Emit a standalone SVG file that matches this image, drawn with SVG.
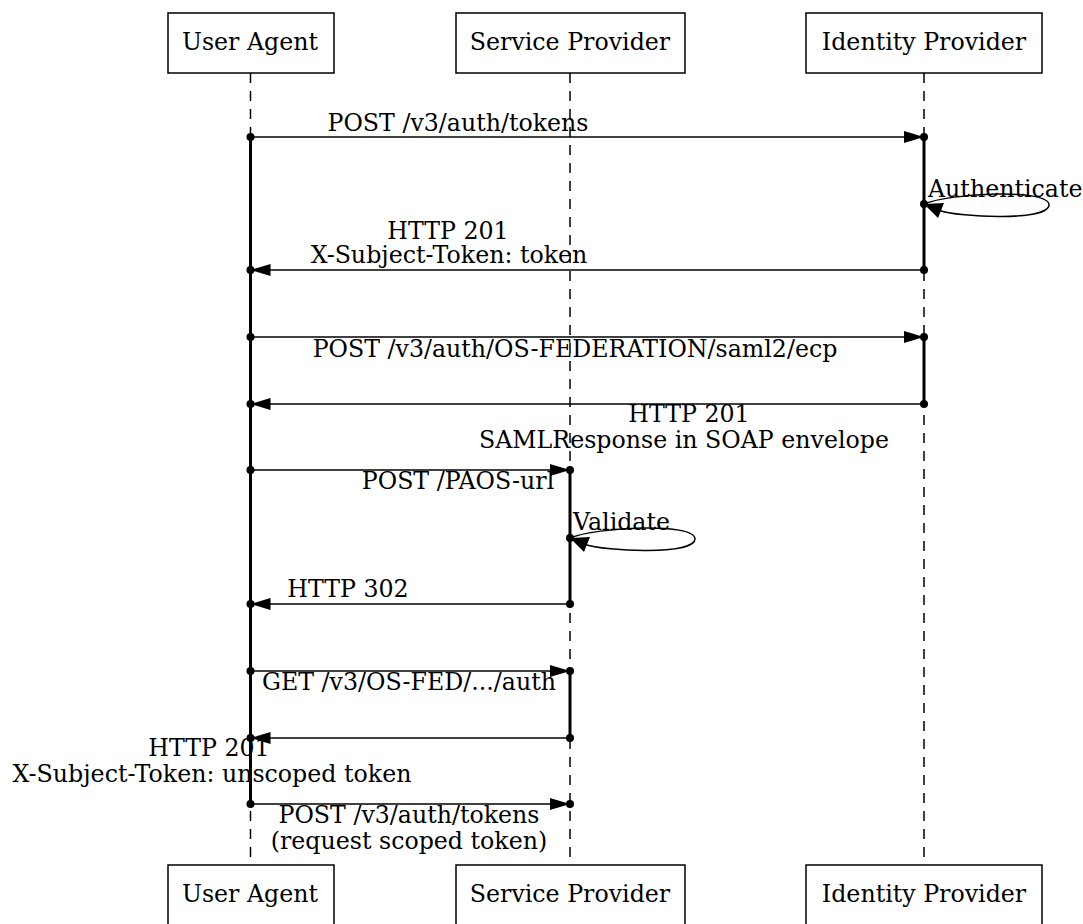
<svg xmlns="http://www.w3.org/2000/svg" width="1083" height="924" viewBox="0 0 1083 924">
<defs>
<style>
text{font-family:"DejaVu Serif",serif;font-size:23.7px;fill:#000}
.t{text-anchor:middle}
.box{fill:#fff;stroke:#000;stroke-width:1.5}
.life{stroke:#000;stroke-width:1.5;stroke-dasharray:10,8;fill:none}
.act{stroke:#000;stroke-width:3;fill:none}
.msg{stroke:#000;stroke-width:1.5;fill:none;marker-end:url(#ah)}
.loop{stroke:#000;stroke-width:1.5;fill:none}
.dot{fill:#000}
</style>
<marker id="ah" viewBox="0 0 20 12" refX="20" refY="6" markerWidth="20" markerHeight="12" markerUnits="userSpaceOnUse" orient="auto">
<path d="M0,0 L20,6 L0,12 z" fill="#000"/>
</marker>
</defs>
<g id="lifelines">
<line class="life" x1="250.5" y1="73" x2="250.5" y2="865"/>
<line class="life" x1="570" y1="73" x2="570" y2="865"/>
<line class="life" x1="924" y1="73" x2="924" y2="865"/>
</g>
<g id="activations">
<line class="act" x1="250.5" y1="137" x2="250.5" y2="804"/>
<line class="act" x1="924" y1="137" x2="924" y2="270"/>
<line class="act" x1="924" y1="337" x2="924" y2="404"/>
<line class="act" x1="570" y1="470" x2="570" y2="604"/>
<line class="act" x1="570" y1="671" x2="570" y2="738"/>
</g>
<g id="user-agent-top"><rect class="box" x="168" y="13" width="166" height="60"/><text class="t" x="250" y="50">User Agent</text></g>
<g id="service-provider-top"><rect class="box" x="456" y="13" width="229" height="60"/><text class="t" x="570" y="50">Service Provider</text></g>
<g id="identity-provider-top"><rect class="box" x="806" y="13" width="236" height="60"/><text class="t" x="924" y="50">Identity Provider</text></g>
<g id="user-agent-bottom"><rect class="box" x="168" y="865" width="166" height="62"/><text class="t" x="250" y="902">User Agent</text></g>
<g id="service-provider-bottom"><rect class="box" x="456" y="865" width="229" height="62"/><text class="t" x="570" y="902">Service Provider</text></g>
<g id="identity-provider-bottom"><rect class="box" x="806" y="865" width="236" height="62"/><text class="t" x="924" y="902">Identity Provider</text></g>
<g id="connectors">
<line class="msg" x1="250.5" y1="137" x2="924" y2="137"/>
<path class="loop" d="M924,204 C950,193 1049,188 1049,205 C1049,221 960,218 938,210"/>
<path d="M924,204 L944,203 L938,218 z" fill="#000"/>
<line class="msg" x1="924" y1="270" x2="250.5" y2="270"/>
<line class="msg" x1="250.5" y1="337" x2="924" y2="337"/>
<line class="msg" x1="924" y1="404" x2="250.5" y2="404"/>
<line class="msg" x1="250.5" y1="470" x2="570" y2="470"/>
<path class="loop" d="M570,538 C596,527 695,522 695,539 C695,555 606,552 584,544"/>
<path d="M570,538 L590,537 L584,552 z" fill="#000"/>
<line class="msg" x1="570" y1="604" x2="250.5" y2="604"/>
<line class="msg" x1="250.5" y1="671" x2="570" y2="671"/>
<line class="msg" x1="570" y1="738" x2="250.5" y2="738"/>
<line class="msg" x1="250.5" y1="804" x2="570" y2="804"/>
<g class="dot">
<circle cx="250.5" cy="137" r="4"/><circle cx="924" cy="137" r="4"/>
<circle cx="924" cy="204" r="4"/>
<circle cx="924" cy="270" r="4"/><circle cx="250.5" cy="270" r="4"/>
<circle cx="250.5" cy="337" r="4"/><circle cx="924" cy="337" r="4"/>
<circle cx="924" cy="404" r="4"/><circle cx="250.5" cy="404" r="4"/>
<circle cx="250.5" cy="470" r="4"/><circle cx="570" cy="470" r="4"/>
<circle cx="570" cy="538" r="4"/>
<circle cx="570" cy="604" r="4"/><circle cx="250.5" cy="604" r="4"/>
<circle cx="250.5" cy="671" r="4"/><circle cx="570" cy="671" r="4"/>
<circle cx="570" cy="738" r="4"/><circle cx="250.5" cy="738" r="4"/>
<circle cx="250.5" cy="804" r="4"/><circle cx="570" cy="804" r="4"/>
</g>
</g>
<g id="labels">
<text class="t" x="458" y="131">POST /v3/auth/tokens</text>
<text x="928" y="197">Authenticate</text>
<text class="t" x="448" y="239">HTTP 201</text>
<text class="t" x="449" y="263">X-Subject-Token: token</text>
<text class="t" x="575" y="357">POST /v3/auth/OS-FEDERATION/saml2/ecp</text>
<text class="t" x="689" y="422">HTTP 201</text>
<text class="t" x="684" y="448">SAMLResponse in SOAP envelope</text>
<text class="t" x="458" y="489">POST /PAOS-url</text>
<text x="573" y="530">Validate</text>
<text class="t" x="348" y="597">HTTP 302</text>
<text class="t" x="409" y="690">GET /v3/OS-FED/.../auth</text>
<text class="t" x="209" y="756">HTTP 201</text>
<text class="t" x="212" y="782">X-Subject-Token: unscoped token</text>
<text class="t" x="409" y="823">POST /v3/auth/tokens</text>
<text class="t" x="409" y="849">(request scoped token)</text>
</g>
</svg>
